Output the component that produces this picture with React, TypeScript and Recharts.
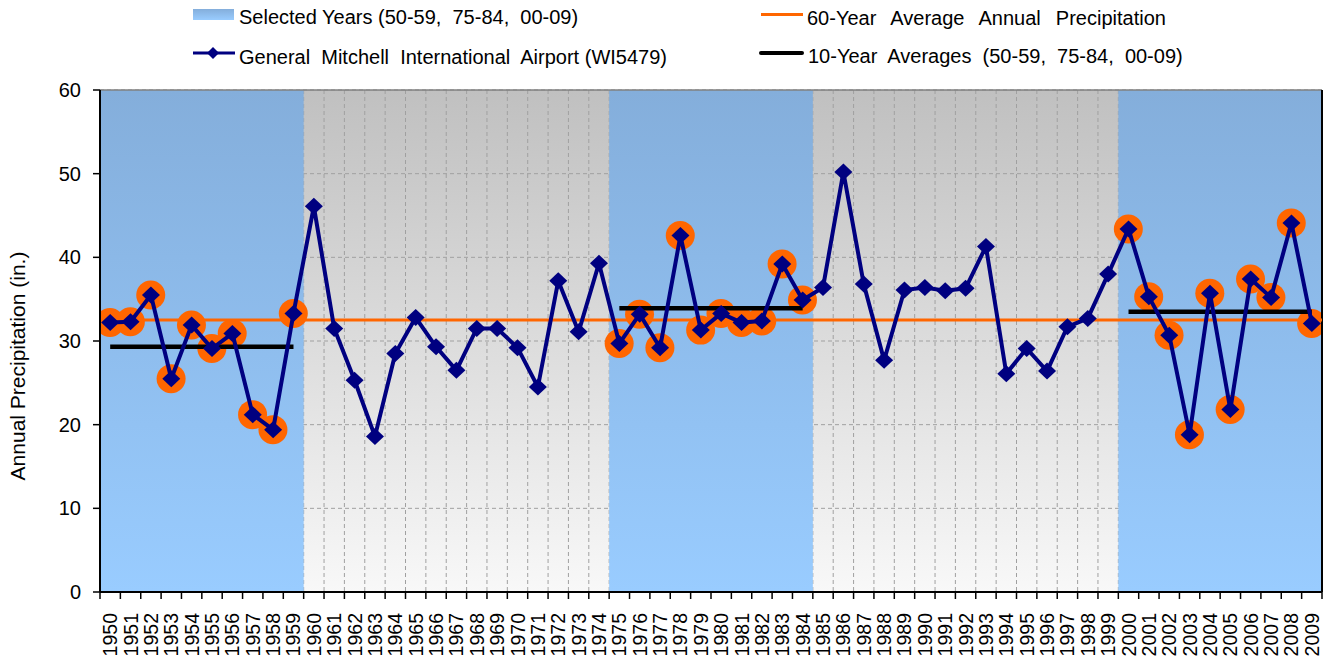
import React from "react";
import {
  ComposedChart,
  Line,
  Bar,
  XAxis,
  YAxis,
  CartesianGrid,
  ReferenceArea,
  ReferenceLine,
} from "recharts";

const years = [
  1950, 1951, 1952, 1953, 1954, 1955, 1956, 1957, 1958, 1959,
  1960, 1961, 1962, 1963, 1964, 1965, 1966, 1967, 1968, 1969,
  1970, 1971, 1972, 1973, 1974, 1975, 1976, 1977, 1978, 1979,
  1980, 1981, 1982, 1983, 1984, 1985, 1986, 1987, 1988, 1989,
  1990, 1991, 1992, 1993, 1994, 1995, 1996, 1997, 1998, 1999,
  2000, 2001, 2002, 2003, 2004, 2005, 2006, 2007, 2008, 2009,
];

// annual precipitation, inches
const precipitation = [
  32.2, 32.3, 35.5, 25.5, 31.9, 29.1, 30.9, 21.2, 19.4, 33.3,
  46.1, 31.5, 25.3, 18.6, 28.5, 32.8, 29.3, 26.5, 31.5, 31.5,
  29.2, 24.5, 37.2, 31.1, 39.3, 29.7, 33.2, 29.2, 42.6, 31.3,
  33.3, 32.2, 32.4, 39.2, 34.9, 36.4, 50.2, 36.8, 27.7, 36.1,
  36.4, 36.0, 36.3, 41.3, 26.1, 29.1, 26.4, 31.7, 32.7, 38.0,
  43.4, 35.3, 30.7, 18.8, 35.7, 21.8, 37.4, 35.2, 44.1, 32.1,
];

const selectedPeriods = [
  [1950, 1959],
  [1975, 1984],
  [2000, 2009],
];
const decadeAverages = [29.3, 33.9, 33.5];
const sixtyYearAverage = 32.5;
const yTicks = [0, 10, 20, 30, 40, 50, 60];

const periodOf = (year: number) =>
  selectedPeriods.findIndex(([a, b]) => year >= a && year <= b);

const data = years.map((year, i) => {
  const p = periodOf(year);
  return {
    year,
    precip: precipitation[i],
    selected: p >= 0 ? precipitation[i] : null,
    decadeAvg: p >= 0 ? decadeAverages[p] : null,
  };
});

// category edges, used for the tick marks and the dashed grid
const edges = [...years.map((y) => y - 0.5), years[years.length - 1] + 0.5];
const xDomain = [edges[0], edges[edges.length - 1]];

const FONT = '"Liberation Sans", Arial, sans-serif';
const NAVY = "#000080";
const ORANGE = "#FF6600";

const Diamond = (props: any) => {
  const { cx, cy } = props;
  if (cx == null || cy == null) return null;
  return (
    <polygon
      points={`${cx},${cy - 8.5} ${cx + 9},${cy} ${cx},${cy + 8.5} ${cx - 9},${cy}`}
      fill={NAVY}
    />
  );
};

// orange halo drawn at the top of an (invisible) bar, so it sits under the lines
const Halo = (props: any) => {
  const { x, y, width, value } = props;
  if (value == null || x == null || y == null) return null;
  return <circle cx={x + width / 2} cy={y} r={14.5} fill={ORANGE} />;
};

const YearTick = (props: any) => {
  const { x, y, payload } = props;
  const bx = x + 7;
  const by = y + 20;
  return (
    <text
      x={bx}
      y={by}
      transform={`rotate(-90, ${bx}, ${by})`}
      textAnchor="end"
      fontSize={19.5}
      fontFamily={FONT}
      fill="#000"
    >
      {payload.value}
    </text>
  );
};

const YLabel = (props: any) => {
  const { viewBox } = props;
  const bx = viewBox.x + 17;
  const by = viewBox.y + viewBox.height / 2 + 25;
  return (
    <text
      x={bx}
      y={by}
      transform={`rotate(-90, ${bx}, ${by})`}
      textAnchor="middle"
      fontSize={21}
      fontFamily={FONT}
      fill="#000"
    >
      Annual Precipitation (in.)
    </text>
  );
};

const legendText: React.CSSProperties = {
  position: "absolute",
  fontSize: 20,
  lineHeight: "20px",
  whiteSpace: "pre",
  color: "#000",
  fontFamily: FONT,
};

function ChartLegend() {
  return (
    <div style={{ position: "absolute", left: 0, top: 0, width: 1325, height: 70 }}>
      <div
        style={{
          position: "absolute",
          left: 185,
          top: 1,
          width: 41,
          height: 11,
          background: "linear-gradient(#84AEDB, #99CCFF)",
        }}
      />
      <div style={{ ...legendText, left: 231, top: -1 }}>
        {"Selected Years (50-59,  75-84,  00-09)"}
      </div>
      <svg
        style={{ position: "absolute", left: 185, top: 35 }}
        width={42}
        height={20}
      >
        <line x1={0} y1={10} x2={42} y2={10} stroke={NAVY} strokeWidth={3} />
        <polygon points="20,4 26,10 20,16 14,10" fill={NAVY} />
      </svg>
      <div style={{ ...legendText, left: 231, top: 39 }}>
        {"General  Mitchell  International  Airport (WI5479)"}
      </div>
      <div
        style={{
          position: "absolute",
          left: 753,
          top: 5,
          width: 42,
          height: 2.5,
          background: ORANGE,
        }}
      />
      <div style={{ ...legendText, left: 799, top: 0, wordSpacing: 2 }}>
        {"60-Year  Average  Annual  Precipitation"}
      </div>
      <div
        style={{
          position: "absolute",
          left: 751,
          top: 43,
          width: 45,
          height: 4,
          background: "#000",
          borderRadius: 2,
        }}
      />
      <div style={{ ...legendText, left: 800, top: 38 }}>
        {"10-Year  Averages  (50-59,  75-84,  00-09)"}
      </div>
    </div>
  );
}

export default function App() {
  return (
    <div style={{ position: "relative", width: 1325, height: 655, fontFamily: FONT }}>
      <ComposedChart
        width={1325}
        height={655}
        data={data}
        margin={{ top: 82, right: 11, bottom: 0, left: 0 }}
      >
        <defs>
          <linearGradient id="grayGrad" x1="0" y1="0" x2="0" y2="1">
            <stop offset="0%" stopColor="#C0C0C0" />
            <stop offset="100%" stopColor="#F8F8F8" />
          </linearGradient>
          <linearGradient id="blueGrad" x1="0" y1="0" x2="0" y2="1">
            <stop offset="0%" stopColor="#84AEDB" />
            <stop offset="100%" stopColor="#99CCFF" />
          </linearGradient>
        </defs>

        <XAxis
          xAxisId="edges"
          type="number"
          dataKey="year"
          domain={xDomain}
          allowDataOverflow
          ticks={edges}
          interval={0}
          height={1}
          tickSize={7}
          tickFormatter={() => ""}
          axisLine={{ stroke: "#000", strokeWidth: 2 }}
          tickLine={{ stroke: "#000", strokeWidth: 1.5 }}
        />
        <XAxis
          xAxisId="years"
          type="number"
          dataKey="year"
          domain={xDomain}
          allowDataOverflow
          ticks={years}
          interval={0}
          height={70}
          tickSize={0}
          tickMargin={0}
          axisLine={false}
          tickLine={false}
          tick={<YearTick />}
        />
        <YAxis
          type="number"
          domain={[0, 60]}
          ticks={yTicks}
          interval={0}
          width={92}
          tickSize={7}
          tickMargin={12}
          axisLine={{ stroke: "#000", strokeWidth: 2 }}
          tickLine={{ stroke: "#000", strokeWidth: 1.5 }}
          tick={{ fontSize: 20, fill: "#000", fontFamily: FONT }}
          label={<YLabel />}
        />

        <CartesianGrid
          xAxisId="years"
          verticalValues={edges}
          fill="url(#grayGrad)"
          fillOpacity={1}
          stroke="#A0A0A0"
          strokeDasharray="4 3"
        />

        {selectedPeriods.map(([a, b]) => (
          <ReferenceArea
            key={a}
            xAxisId="years"
            x1={a - 0.5}
            x2={b + 0.5}
            y1={0}
            y2={60}
            fill="url(#blueGrad)"
            fillOpacity={1}
            stroke="none"
          />
        ))}

        <ReferenceLine xAxisId="years" y={60} stroke="#808080" strokeWidth={1.5} />
        <ReferenceLine xAxisId="years" x={xDomain[1]} stroke="#000" strokeWidth={2} />

        <Bar
          xAxisId="years"
          dataKey="selected"
          barSize={2}
          shape={<Halo />}
          isAnimationActive={false}
        />
        <ReferenceLine
          xAxisId="years"
          y={sixtyYearAverage}
          stroke={ORANGE}
          strokeWidth={3}
        />
        <Line
          xAxisId="years"
          dataKey="decadeAvg"
          stroke="#000"
          strokeWidth={4.5}
          dot={false}
          activeDot={false}
          connectNulls={false}
          isAnimationActive={false}
        />
        <Line
          xAxisId="years"
          dataKey="precip"
          stroke={NAVY}
          strokeWidth={4}
          dot={<Diamond />}
          activeDot={false}
          isAnimationActive={false}
        />
      </ComposedChart>
      <ChartLegend />
    </div>
  );
}
